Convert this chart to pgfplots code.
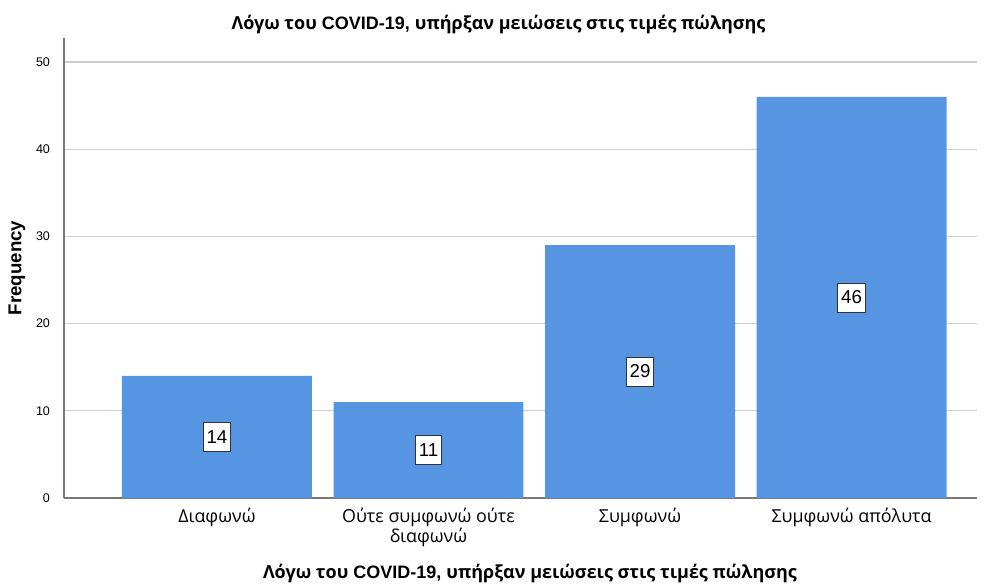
\documentclass[border=0pt]{standalone}
\usepackage{fontspec}
\setmainfont{Liberation Sans}
\newfontfamily\grk{Open Sans}
\usepackage{pgfplots}
\pgfplotsset{compat=1.18}
\definecolor{barblue}{RGB}{85,149,226}
\definecolor{gridgray}{RGB}{205,205,205}
\definecolor{axisgray}{RGB}{120,120,120}
\newcommand{\ttl}{{\grk Λόγω του} COVID-19, {\grk υπήρξαν μειώσεις στις τιμές πώλησης}}
\begin{document}
\begin{tikzpicture}
\begin{axis}[
  name=ax,
  scale only axis,
  width=684.75pt, height=345pt,
  xmin=-0.723, xmax=3.593,
  ymin=0, ymax=52.75,
  axis lines=left,
  axis line style={draw=axisgray, line width=0.8pt, -},
  ytick={0,10,20,30,40,50},
  xtick={0,1,2,3},
  xticklabels={Διαφωνώ,{Ούτε συμφωνώ ούτε\\διαφωνώ},Συμφωνώ,Συμφωνώ απόλυτα},
  major tick length=0pt,
  ymajorgrids,
  grid style={draw=gridgray, line width=0.8pt},
  /pgf/number format/assume math mode=true,
  yticklabel style={font=\fontsize{9.4}{11}\selectfont, xshift=-7pt},
  xticklabel style={font=\grk\fontsize{13.4}{15}\selectfont, align=center, yshift=-4pt},
  clip=false,
]
\addplot[ybar, bar width=0.898, fill=barblue, draw=none] coordinates {(0,14) (1,11) (2,29) (3,46)};
\addplot[only marks, mark=none, draw=none,
  nodes near coords, point meta=explicit symbolic,
  nodes near coords align={center},
  every node near coord/.style={anchor=center, fill=white, draw=black!80, line width=0.6pt,
    font=\fontsize{14}{15}\selectfont, inner xsep=2.5pt, inner ysep=0pt, minimum height=21.75pt}]
  coordinates {(0,7)[14] (1,5.5)[11] (2,14.5)[29] (3,23)[46]};
\coordinate (bl) at (rel axis cs:0,0);
\coordinate (tr) at (rel axis cs:1,1);
\coordinate (tl) at (rel axis cs:0,1);
\end{axis}
\node[font=\bfseries\fontsize{13.5}{15}\selectfont] at ([shift={(325.9pt,9.75pt)}]tl) {\ttl};
\node[font=\bfseries\fontsize{13.5}{15}\selectfont] at ([shift={(349.5pt,-56.25pt)}]bl) {\ttl};
\node[font=\bfseries\fontsize{14}{16}\selectfont, rotate=90] at ([shift={(-35.25pt,172.5pt)}]bl) {Frequency};
\path ([shift={(-48pt,-66pt)}]bl) rectangle ([shift={(11.25pt,28.5pt)}]tr);
\end{tikzpicture}
\end{document}
